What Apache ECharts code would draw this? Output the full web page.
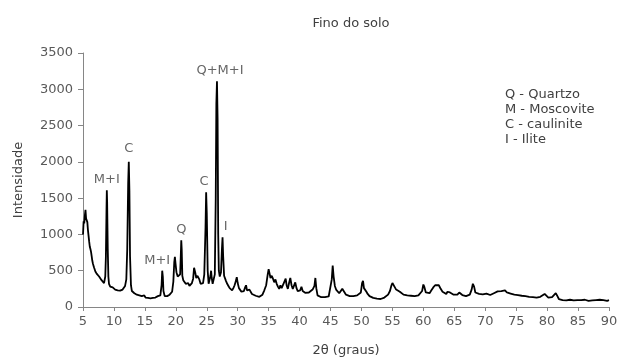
<!DOCTYPE html>
<html><head><meta charset="utf-8">
<script src="https://cdn.jsdelivr.net/npm/echarts@6/dist/echarts.min.js"></script>
<style>html,body{margin:0;padding:0;background:#fff}#c{width:621px;height:362px}</style>
</head><body><div id="c"></div>
<script>
const theta = [5.0,5.1,5.2,5.3,5.4,5.5,5.6,5.7,5.8,5.9,6.0,6.1,6.2,6.3,6.4,6.5,6.6,6.7,6.8,6.9,7.0,7.2,7.4,7.6,7.8,8.0,8.2,8.4,8.5,8.6,8.7,8.8,8.85,8.9,9.0,9.1,9.2,9.4,9.6,9.8,10.0,10.2,10.4,10.6,10.8,11.0,11.2,11.4,11.6,11.8,12.0,12.15,12.3,12.4,12.5,12.6,12.75,12.9,13.1,13.3,13.5,13.7,13.9,14.1,14.3,14.5,14.7,14.9,15.1,15.3,15.5,15.7,15.9,16.1,16.3,16.5,16.7,16.9,17.1,17.3,17.5,17.7,17.8,17.9,18.0,18.2,18.4,18.6,18.8,19.0,19.2,19.4,19.6,19.75,19.85,19.95,20.1,20.3,20.5,20.7,20.8,20.88,20.95,21.05,21.2,21.4,21.6,21.8,22.0,22.2,22.4,22.6,22.8,22.95,23.05,23.15,23.3,23.5,23.6,23.8,24.0,24.2,24.4,24.6,24.8,24.9,25.0,25.15,25.3,25.45,25.6,25.7,25.8,25.95,26.1,26.3,26.45,26.55,26.65,26.75,26.85,26.95,27.1,27.3,27.45,27.55,27.65,27.8,27.95,28.1,28.3,28.5,28.7,28.9,29.1,29.3,29.5,29.7,29.85,30.0,30.2,30.4,30.6,30.8,31.0,31.2,31.35,31.5,31.7,31.9,32.05,32.3,32.6,32.9,33.2,33.5,33.8,34.0,34.3,34.6,34.85,35.0,35.1,35.3,35.5,35.7,35.9,36.1,36.3,36.5,36.7,36.9,37.1,37.3,37.6,37.75,37.9,38.1,38.3,38.5,38.7,38.9,39.1,39.3,39.5,39.7,39.9,40.1,40.3,40.5,40.7,40.9,41.2,41.5,41.8,42.1,42.4,42.55,42.7,42.9,43.2,43.5,43.8,44.1,44.4,44.7,45.0,45.2,45.35,45.5,45.7,45.9,46.1,46.4,46.7,46.9,47.05,47.2,47.5,47.8,48.1,48.4,48.7,49.0,49.3,49.6,49.9,50.1,50.25,50.4,50.6,50.8,51.0,51.3,51.6,51.9,52.2,52.5,52.8,53.1,53.4,53.7,54.0,54.3,54.6,54.85,55.0,55.2,55.4,55.6,55.9,56.2,56.5,56.8,57.1,57.4,57.7,58.0,58.3,58.6,58.9,59.2,59.5,59.8,60.0,60.15,60.4,60.7,61.0,61.3,61.6,61.9,62.2,62.5,62.8,63.1,63.4,63.7,63.9,64.1,64.3,64.6,64.9,65.2,65.5,65.8,66.0,66.3,66.6,66.9,67.2,67.5,67.8,68.0,68.2,68.4,68.7,69.0,69.3,69.6,69.9,70.2,70.5,70.8,71.1,71.4,71.7,72.0,72.3,72.6,72.9,73.2,73.5,73.8,74.1,74.4,74.7,75.0,75.3,75.6,75.9,76.2,76.5,76.8,77.1,77.4,77.7,78.0,78.3,78.6,78.9,79.2,79.6,79.9,80.2,80.5,80.8,81.1,81.4,81.6,81.9,82.2,82.5,82.8,83.1,83.4,83.7,84.0,84.3,84.6,84.9,85.2,85.5,85.8,86.1,86.4,86.7,87.0,87.3,87.6,87.9,88.2,88.5,88.8,89.1,89.4,89.7,90.0];
const intensity = [1000,1180,1150,1260,1340,1220,1230,1170,1060,980,900,830,800,760,700,640,600,570,540,520,490,460,440,420,400,370,345,330,345,420,700,1350,1610,1450,800,420,320,280,260,270,250,240,260,230,245,225,250,240,260,290,380,800,1700,2000,1600,700,300,220,200,190,175,170,185,160,155,150,140,160,130,140,125,140,120,135,125,145,130,140,150,135,160,300,500,420,220,150,135,150,140,170,190,210,350,620,690,600,480,420,400,450,700,920,800,430,370,350,320,300,330,290,300,330,390,540,560,470,400,430,450,380,320,300,330,450,1100,1580,1300,500,320,300,430,500,400,320,330,450,1500,2800,3110,2600,1000,500,420,480,800,960,700,430,450,360,320,290,260,240,230,260,300,360,410,330,260,240,210,230,220,270,300,230,210,240,230,180,170,155,150,140,160,170,230,300,450,520,480,400,430,390,340,380,320,280,250,300,260,280,360,390,300,250,330,400,300,250,270,340,260,220,210,230,280,220,200,195,190,200,205,240,290,400,260,160,140,135,150,135,140,145,170,380,570,420,290,240,220,190,210,250,265,210,170,160,150,160,150,165,160,175,200,330,360,260,240,210,180,150,130,125,120,115,120,110,125,130,140,170,220,300,330,310,270,240,230,210,190,170,165,160,150,155,145,150,145,160,170,220,310,280,200,180,190,230,270,300,290,300,250,210,190,180,210,235,200,180,170,160,170,200,180,165,160,150,155,170,240,320,280,200,185,180,170,175,200,185,160,165,175,190,200,215,230,220,210,230,200,195,185,180,170,175,165,160,155,160,150,145,140,130,135,125,130,120,140,145,180,175,130,125,135,150,190,160,110,100,95,100,90,95,100,95,90,100,95,90,95,90,100,95,85,95,90,85,95,90,100,85,95,90,85,95];

const peakNames = ['M+I','C','M+I','Q','C','Q+M+I','I'];
const peakTheta = [8.85,12.4,17.8,20.88,24.9,26.65,27.55];
const peakIntensity = [1610,2000,500,920,1580,3110,960];

const xTicks = {min:5,max:90,step:5};
const yTicks = {min:0,max:3500,step:500};
const legendLines = ['Q - Quartzo','M - Moscovite','C - caulinite','I - Ilite'];

const font = 'DejaVu Sans';
// per-label nudges (annotation styling, not data)
const labelNudge = {0:[0,0],1:[0,-3],2:[-5,0],3:[0,0],4:[-2,0],5:[3,0],6:[3,0]};
const chart = echarts.init(document.getElementById('c'), null, {renderer:'canvas'});
chart.setOption({
  animation:false,
  backgroundColor:'#fff',
  title:{text:'Fino do solo',left:346,top:12,textAlign:'center',
    textStyle:{fontFamily:font,fontSize:13,fontWeight:'normal',color:'#404040'}},
  grid:{left:83,right:12,top:53,bottom:49,containLabel:false},
  xAxis:{type:'value',min:xTicks.min,max:xTicks.max,interval:xTicks.step,
    name:'2θ (graus)',nameLocation:'middle',nameGap:37,
    nameTextStyle:{fontFamily:font,fontSize:13,color:'#404040'},
    axisLine:{show:true,lineStyle:{color:'#868686',width:1}},
    axisTick:{show:true,inside:false,length:4,lineStyle:{color:'#868686'}},
    axisLabel:{fontFamily:font,fontSize:13,color:'#595959',margin:8},
    splitLine:{show:false}},
  yAxis:{type:'value',min:yTicks.min,max:yTicks.max,interval:yTicks.step,
    name:'Intensidade',nameLocation:'middle',nameGap:58,
    nameTextStyle:{fontFamily:font,fontSize:13,color:'#404040'},
    axisLine:{show:true,lineStyle:{color:'#868686',width:1}},
    axisTick:{show:true,inside:false,length:5,lineStyle:{color:'#868686'}},
    axisLabel:{fontFamily:font,fontSize:13,color:'#595959',margin:10,formatter:v=>String(v)},
    splitLine:{show:false}},
  graphic:[{type:'text',left:505,top:87,
    style:{text:legendLines.join('\n'),fontFamily:font,fontSize:13,lineHeight:15,fill:'#404040'}}],
  series:[
    {type:'line',data:theta.map((t,i)=>[t,intensity[i]]),showSymbol:false,symbol:'none',
      lineStyle:{color:'#000',width:1.8},z:3},
    {type:'scatter',data:peakTheta.map((t,i)=>({value:[t,peakIntensity[i]],label:{offset:labelNudge[i]}})),symbolSize:0,z:4,
      label:{show:true,position:'top',distance:4,formatter:p=>peakNames[p.dataIndex],
        fontFamily:font,fontSize:13,color:'#404040'}}
  ]
});
</script></body></html>
